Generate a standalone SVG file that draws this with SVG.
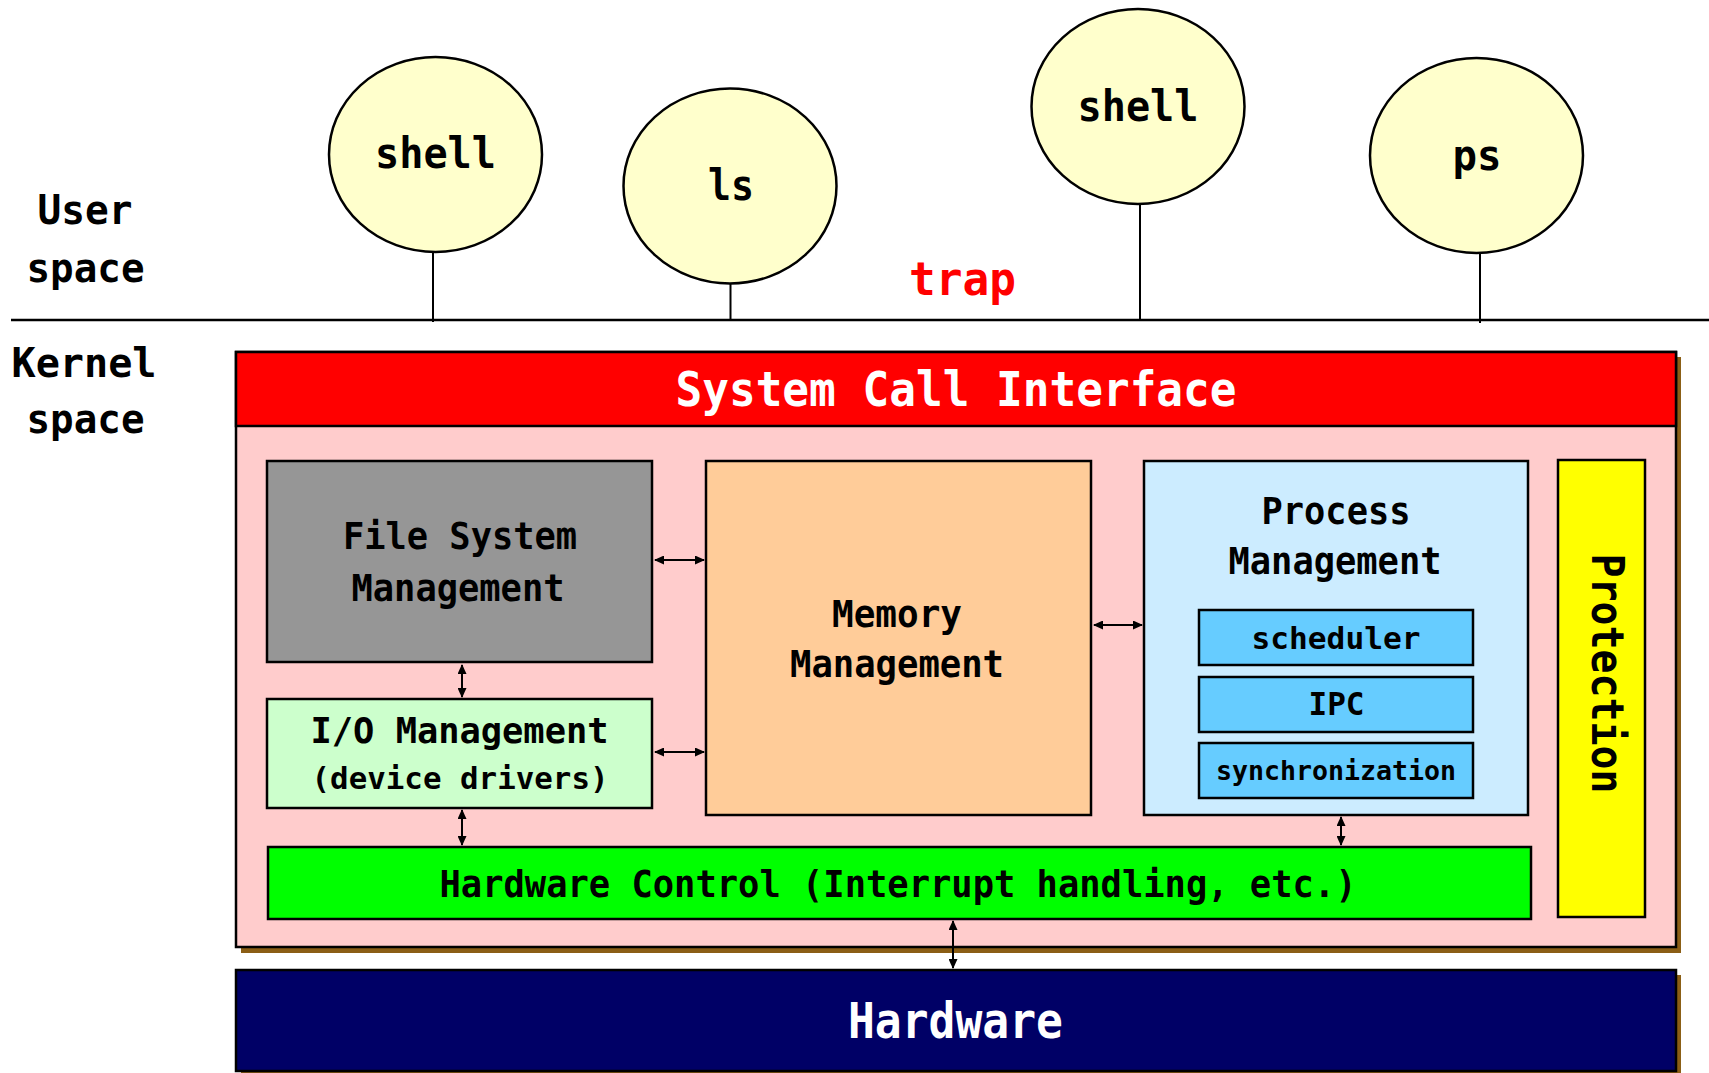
<svg xmlns="http://www.w3.org/2000/svg" width="1709" height="1073" viewBox="0 0 1709 1073">
  <defs>
    <marker id="head" markerUnits="userSpaceOnUse" markerWidth="10" markerHeight="9" refX="9" refY="4.5" orient="auto-start-reverse">
      <path d="M0,0 L10,4.5 L0,9 z" fill="#000"/>
    </marker>
  </defs>
  <style>
    text { font-family: "DejaVu Sans Mono", "Liberation Mono", monospace; font-weight: bold; fill: #000; text-anchor: middle; }
    .proc { fill: #FFFFCC; stroke: #000; stroke-width: 2.5; }
    .box { stroke: #000; stroke-width: 2.5; }
    .stem { stroke: #000; stroke-width: 2; fill: none; }
    .shadow { fill: #8B5E15; }
    .link { stroke: #000; stroke-width: 2; fill: none; marker-start: url(#head); marker-end: url(#head); }
    .lbl { font-size: 41px; }
    .white { fill: #FFFFFF; }
  </style>

  <rect width="1709" height="1073" fill="#FFFFFF"/>

  <!-- space labels and boundary -->
  <g id="labels">
    <text class="lbl" x="85" y="224" textLength="95" lengthAdjust="spacingAndGlyphs">User</text>
    <text class="lbl" x="85.5" y="282" textLength="118" lengthAdjust="spacingAndGlyphs">space</text>
    <text class="lbl" x="84" y="377" textLength="145" lengthAdjust="spacingAndGlyphs">Kernel</text>
    <text class="lbl" x="85.5" y="433" textLength="118" lengthAdjust="spacingAndGlyphs">space</text>
    <text x="962.5" y="295" font-size="46" style="fill:#FF0000" textLength="107" lengthAdjust="spacingAndGlyphs">trap</text>
  </g>
  <line id="boundary" x1="11" y1="320" x2="1709" y2="320" stroke="#000" stroke-width="2.5"/>

  <!-- user processes -->
  <g id="proc-shell1">
    <line class="stem" x1="433" y1="252" x2="433" y2="322"/>
    <ellipse class="proc" cx="435.5" cy="154.5" rx="106.5" ry="97.5"/>
    <text x="435.5" y="168" font-size="43" textLength="121" lengthAdjust="spacingAndGlyphs">shell</text>
  </g>
  <g id="proc-ls">
    <line class="stem" x1="730.5" y1="284" x2="730.5" y2="320"/>
    <ellipse class="proc" cx="730" cy="186" rx="106.5" ry="97.5"/>
    <text x="731" y="200" font-size="43" textLength="46" lengthAdjust="spacingAndGlyphs">ls</text>
  </g>
  <g id="proc-shell2">
    <line class="stem" x1="1140" y1="204" x2="1140" y2="320"/>
    <ellipse class="proc" cx="1138" cy="106.5" rx="106.5" ry="97.5"/>
    <text x="1138" y="120.5" font-size="43" textLength="121" lengthAdjust="spacingAndGlyphs">shell</text>
  </g>
  <g id="proc-ps">
    <line class="stem" x1="1480" y1="253" x2="1480" y2="323"/>
    <ellipse class="proc" cx="1476.5" cy="155.5" rx="106.5" ry="97.5"/>
    <text x="1477" y="170" font-size="43" textLength="49" lengthAdjust="spacingAndGlyphs">ps</text>
  </g>

  <!-- kernel frame with system call interface -->
  <g id="kernel">
    <rect class="shadow" x="241" y="357" width="1440" height="596"/>
    <rect class="box" x="236" y="352" width="1440" height="595" fill="#FFCCCC"/>
    <rect class="box" x="236" y="352" width="1440" height="74" fill="#FF0000"/>
    <text class="white" x="956" y="406" font-size="48" textLength="561" lengthAdjust="spacingAndGlyphs">System Call Interface</text>
  </g>

  <g id="filesystem">
    <rect class="box" x="267" y="461" width="385" height="201" fill="#969696"/>
    <text x="460" y="549" font-size="38" textLength="234" lengthAdjust="spacingAndGlyphs">File System</text>
    <text x="458" y="601" font-size="38" textLength="213" lengthAdjust="spacingAndGlyphs">Management</text>
  </g>

  <g id="io">
    <rect class="box" x="267" y="699" width="385" height="109" fill="#CCFFCC"/>
    <text x="459.5" y="743" font-size="36" textLength="298" lengthAdjust="spacingAndGlyphs">I/O Management</text>
    <text x="460" y="789" font-size="30" textLength="297" lengthAdjust="spacingAndGlyphs">(device drivers)</text>
  </g>

  <g id="memory">
    <rect class="box" x="706" y="461" width="385" height="354" fill="#FFCC99"/>
    <text x="897" y="627" font-size="37" textLength="130" lengthAdjust="spacingAndGlyphs">Memory</text>
    <text x="897" y="677" font-size="37" textLength="214" lengthAdjust="spacingAndGlyphs">Management</text>
  </g>

  <g id="process">
    <rect class="box" x="1144" y="461" width="384" height="354" fill="#CCECFF"/>
    <text x="1336" y="524" font-size="37" textLength="149" lengthAdjust="spacingAndGlyphs">Process</text>
    <text x="1335" y="574" font-size="37" textLength="213" lengthAdjust="spacingAndGlyphs">Management</text>
  </g>
  <g id="scheduler">
    <rect class="box" x="1199" y="610" width="274" height="55" fill="#66CCFF"/>
    <text x="1336" y="649" font-size="30" textLength="169" lengthAdjust="spacingAndGlyphs">scheduler</text>
  </g>
  <g id="ipc">
    <rect class="box" x="1199" y="677" width="274" height="55" fill="#66CCFF"/>
    <text x="1336.5" y="715" font-size="32" textLength="56" lengthAdjust="spacingAndGlyphs">IPC</text>
  </g>
  <g id="sync">
    <rect class="box" x="1199" y="743" width="274" height="55" fill="#66CCFF"/>
    <text x="1336" y="780" font-size="27" textLength="240" lengthAdjust="spacingAndGlyphs">synchronization</text>
  </g>

  <g id="protection">
    <rect class="box" x="1558" y="460" width="87" height="457" fill="#FFFF00"/>
    <text transform="translate(1592,673.5) rotate(90)" x="0" y="0" font-size="45" textLength="240" lengthAdjust="spacingAndGlyphs">Protection</text>
  </g>

  <g id="hwcontrol">
    <rect class="box" x="268" y="847" width="1263" height="72" fill="#00FF00"/>
    <text x="898" y="897" font-size="38" textLength="917" lengthAdjust="spacingAndGlyphs">Hardware Control (Interrupt handling, etc.)</text>
  </g>

  <g id="hardware">
    <rect class="shadow" x="241" y="975" width="1440" height="101"/>
    <rect class="box" x="236" y="970" width="1440" height="101" fill="#000066"/>
    <text class="white" x="955.5" y="1038" font-size="50" textLength="215" lengthAdjust="spacingAndGlyphs">Hardware</text>
  </g>

  <!-- connectors between kernel parts -->
  <g id="connectors">
    <line class="link" x1="655" y1="560" x2="704" y2="560"/>
    <line class="link" x1="655" y1="752" x2="704" y2="752"/>
    <line class="link" x1="1094" y1="625" x2="1142" y2="625"/>
    <line class="link" x1="462" y1="665" x2="462" y2="697"/>
    <line class="link" x1="462" y1="810" x2="462" y2="845"/>
    <line class="link" x1="1341" y1="817" x2="1341" y2="845"/>
    <line class="link" x1="953" y1="921" x2="953" y2="968"/>
  </g>
</svg>
